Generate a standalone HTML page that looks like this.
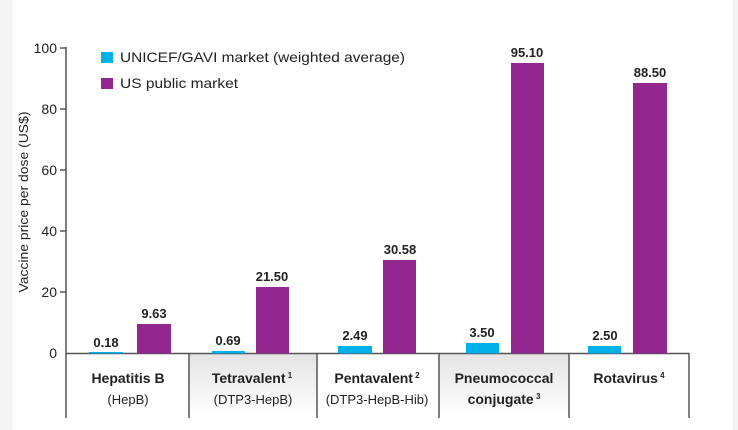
<!DOCTYPE html>
<html><head><style>
body{margin:0;background:#fff}
svg{display:block;font-family:"Liberation Sans",sans-serif}
</style></head><body>
<svg width="738" height="430" viewBox="0 0 738 430">
<rect width="738" height="430" fill="#fff"/>
<rect x="0" y="0" width="13" height="430" fill="#f4f4f4"/>
<rect x="733" y="0" width="5" height="430" fill="#f4f4f4"/>
<defs><linearGradient id="g" x1="0" y1="0" x2="0" y2="1"><stop offset="0" stop-color="#e4e4e4"/><stop offset="1" stop-color="#fff"/></linearGradient></defs>
<rect x="189" y="354" width="128" height="64" fill="url(#g)"/>
<rect x="439" y="354" width="130" height="64" fill="url(#g)"/>
<g stroke="#555" stroke-width="1.5">
<line x1="66" y1="47" x2="66" y2="418"/>
<line x1="66" y1="353.5" x2="689" y2="353.5"/>
<line x1="189" y1="353" x2="189" y2="418"/>
<line x1="317" y1="353" x2="317" y2="418"/>
<line x1="439" y1="353" x2="439" y2="418"/>
<line x1="569" y1="353" x2="569" y2="418"/>
<line x1="689" y1="353" x2="689" y2="418"/>
<line x1="60" y1="48" x2="66" y2="48"/><line x1="60" y1="109" x2="66" y2="109"/>
<line x1="60" y1="170" x2="66" y2="170"/><line x1="60" y1="231" x2="66" y2="231"/>
<line x1="60" y1="292" x2="66" y2="292"/>
</g>
<g font-size="14" fill="#222" text-anchor="end">
<text x="57" y="53">100</text><text x="57" y="114">80</text><text x="57" y="175">60</text>
<text x="57" y="236">40</text><text x="57" y="297">20</text><text x="57" y="358">0</text>
</g>
<text transform="translate(28,202) rotate(-90)" font-size="13" fill="#222" text-anchor="middle" textLength="181" lengthAdjust="spacingAndGlyphs">Vaccine price per dose (US$)</text>
<rect x="101" y="52" width="12" height="11" fill="#00b0e8"/>
<text x="120" y="62" font-size="14" fill="#222" textLength="285" lengthAdjust="spacingAndGlyphs">UNICEF/GAVI market (weighted average)</text>
<rect x="101" y="78" width="12" height="11" fill="#92278f"/>
<text x="120" y="88" font-size="14" fill="#222" textLength="118" lengthAdjust="spacingAndGlyphs">US public market</text>
<g fill="#00b0e8">
<rect x="89" y="352" width="34" height="1.5"/>
<rect x="212" y="351" width="33" height="2.5"/>
<rect x="338" y="346" width="34" height="7.5"/>
<rect x="466" y="343" width="33" height="10.5"/>
<rect x="588" y="346" width="33" height="7.5"/>
</g>
<g fill="#92278f">
<rect x="137" y="324" width="34" height="29.5"/>
<rect x="256" y="287" width="33" height="66.5"/>
<rect x="383" y="260" width="33" height="93.5"/>
<rect x="511" y="63" width="33" height="290.5"/>
<rect x="633" y="83" width="34" height="270.5"/>
</g>
<g font-size="13" font-weight="bold" fill="#222" text-anchor="middle">
<text x="106" y="347">0.18</text><text x="154" y="318">9.63</text>
<text x="228" y="345">0.69</text><text x="272" y="281">21.50</text>
<text x="355" y="340">2.49</text><text x="400" y="254">30.58</text>
<text x="482" y="337">3.50</text><text x="527" y="57">95.10</text>
<text x="605" y="340">2.50</text><text x="650" y="77">88.50</text>
</g>
<g font-size="14" font-weight="bold" fill="#222" text-anchor="middle">
<text x="128" y="383">Hepatitis B</text>
<text x="252" y="383">Tetravalent<tspan font-size="8" dy="-5"> 1</tspan></text>
<text x="377" y="383">Pentavalent<tspan font-size="8" dy="-5"> 2</tspan></text>
<text x="504" y="383">Pneumococcal</text>
<text x="504" y="404">conjugate<tspan font-size="8" dy="-5"> 3</tspan></text>
<text x="629" y="383">Rotavirus<tspan font-size="8" dy="-5"> 4</tspan></text>
</g>
<g font-size="13" fill="#222" text-anchor="middle">
<text x="128" y="404">(HepB)</text>
<text x="253" y="404">(DTP3-HepB)</text>
<text x="377" y="404">(DTP3-HepB-Hib)</text>
</g>
</svg>
</body></html>
